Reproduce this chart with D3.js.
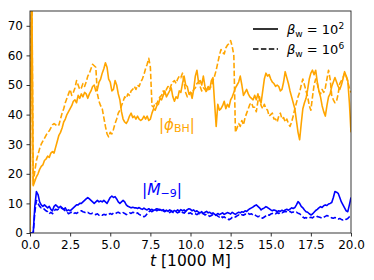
<!DOCTYPE html>
<html><head><meta charset="utf-8">
<script src="https://cdn.jsdelivr.net/npm/d3@7"></script>
<style>body{margin:0;background:#fff}svg{display:block}</style>
</head><body>
<svg id="c" width="374" height="280"></svg>
<script>
const tStep = 0.1; // time sampling in units of 1000 M
const xTicks = [0, 2.5, 5, 7.5, 10, 12.5, 15, 17.5, 20];
const yTicks = [0, 10, 20, 30, 40, 50, 60, 70];
const legendLabels = ["10^2", "10^6"];

// |phi_BH|, beta_w = 10^2 (solid)
const phiSolid = [0,95,16,17.5,19,20,21.5,22.5,23,24.5,
25,26,25.5,27,27.5,27,29,31,33,34,
35.5,37.5,38.5,40,41,42,43,44.5,45,44,
46.5,45.5,47,46,47.5,47,45.5,47,48,49.5,
50,48,48.5,51,52,54,55.5,57.5,56,52,
51,48,48.5,51.5,50,47,45,41,38.5,37.5,
37,38,39.5,40.5,39,39.5,38.5,39.5,38.5,38,
38.5,39.5,38.5,39.5,38,38.5,40.5,42,41.5,43,
43.5,45.5,45,46.5,48,46,47,48,49,46,
44.5,46,45.5,48,47.5,50.5,53,50,49.5,47,
47.5,45.5,48.5,53,55,51,51.5,50,53,49.5,
48,49.5,48.5,51.5,52.5,44,36,43.5,41.5,42,
43,44.5,42,43.5,42.5,45,46,47.5,49,50,
51,53,50,46.5,47.5,48.5,47,46,45.5,45,
46.5,45,47,45,44,48,52,54,53,53.5,
52,51,50.5,49.5,50,49.5,48,48.5,51,54.5,
52.5,50.5,48,46,44,42,38,34,31.5,37,
42,44,45.5,48.5,52,54,55,53.5,55,51,
48,46,43,41,39.5,43,46,47,49.5,51,
52.5,51,49.5,48.5,50,52,54.5,53,51.5,44,
34];

// |phi_BH|, beta_w = 10^6 (dashed)
const phiDashed = [0,95,16.5,21,24.5,26.5,28.5,30,31,32,
33,34,34.5,35.5,36.5,37,36.5,37,36.5,38.5,
40.5,42,44,45.5,47,48.5,46.5,47.5,49,51.5,
50,48.5,49,50.5,49.5,51,53,54,55.5,57,
56.5,56,47,44.5,43,42,39,36,33.5,32.5,
34,33.5,35,37,38.5,40.5,41.5,43,44.5,46,
45.5,47,46.5,48,48.5,49.5,48.5,50,49.5,51,
52,53.5,55.5,57,59,56,43,42.5,44,43.5,
45,46,46.5,48,47,48.5,49.5,48.5,50,51,
51.5,50.5,52,53,52.5,54,51,47.5,46,46.5,
47.5,47,48.5,49,50.5,51,49.5,48,49,48.5,
47.5,48.5,49,49.5,51.5,53,55,57.5,60,62,
61,60.5,62.5,63.5,64,65,63,60,34,35.5,
37,36,38,36.5,39,40.5,42,43.5,44,42.5,
42.5,41,44.5,46,43,42,43.5,42,41.5,39.5,
40,40.5,38.5,38.5,37.5,39.5,40.5,38.5,39,37.5,
38.5,37,36,37.5,39.5,42,44,46,47.5,50,
52,50,48,46,43,41.5,46,50,52,50.5,
48,47,48.5,47.5,49,52,55,52,46.5,45,
44,44.5,47,50.5,51.5,52.5,54,53,51,49,
47.5];

// |Mdot_-9|, beta_w = 10^2 (solid)
const mdotSolid = [0,0,0,9,14,13,10.5,9.5,9,9.5,
9,8.5,9,8,7.5,9,9.5,9,8.5,9,
8.5,8,8.5,7.5,7.8,7.5,8,8.5,9,9.5,
9.5,10,10,10.5,11,11.5,12,11.5,11,10.5,
10,10.5,11,10.5,10.8,10.5,11,10.5,10,11,
12,12.5,12,12.3,11.5,10.5,10,10.5,11,10.5,
9.5,9,8.8,8.5,8.7,8.5,8.5,8.3,8.6,8.2,
8,8.4,8,7.8,8.2,7.8,8,7.6,7.9,7.5,
7.8,8,7.6,7.9,7.4,7.7,7.3,7.8,7.5,7.2,
7.6,7.3,7.8,7.4,7.9,7.5,7.8,7.3,7.9,8.2,
8,7.5,7.8,7.2,7.5,7,6.8,7.2,6.6,7,
7.3,6.8,7,6.5,6.8,6.3,6.1,6.6,6.2,6.5,
6.8,6.3,6.6,6.9,6.7,6.4,7,6.6,6.3,6.7,
7,6.8,7.2,7,7.5,7.3,7.8,8.2,8.5,8.8,
9.2,9.5,9,8.5,7.8,8.2,8.5,8.9,8.6,8.2,
7.8,7.5,7.8,7.6,7.2,7.5,7.3,7.7,7.4,7.8,
8,7.7,8.1,8.5,8.3,8.6,9.5,10.6,10,9,
8.5,7.8,7.2,7,6.5,6.1,6.4,7,7.6,8,
8.5,8.9,8.6,9.2,9.5,9.3,9.8,10,10.3,12,
14,13.8,13.4,12,10.5,9.5,8.5,7.5,7.2,9.5,
12];

// |Mdot_-9|, beta_w = 10^6 (dashed)
const mdotDashed = [0,0,0,7,11,10,9,8.5,8.5,8,
7.5,7.2,6.5,7,6.5,7.5,8,7.8,8.2,8.5,
8.3,8,7.5,7.2,6.5,6.8,7,6.5,6.8,6.6,
7,7.3,7.5,7.2,7,6.8,7,6.6,6.5,6.7,
6.4,6.2,6.5,6,6.2,6,6.3,6.1,6.4,6.2,
6.6,6.3,6.7,6.5,6.8,7,6.7,6.5,6.9,6.6,
6.2,6.5,6.8,6.6,7,6.8,6.5,6.8,6.3,6,
5.8,5.5,5.8,6.5,7.2,7.5,7.2,7.6,7.9,8.2,
8,7.7,7.9,7.5,7.2,7.6,7.1,6.9,7.3,7,
6.7,7.1,6.8,7.2,6.6,7,6.7,7.3,6.9,6.6,
6.8,6.4,6.7,6.5,6.2,6.6,6.3,6.7,6.5,6.1,
6.4,6,5.6,5.9,6.2,5.8,6.1,5.7,5.4,5.8,
5.2,5.5,5,4.8,4.5,4.8,5.3,5.6,5.4,5.8,
6.1,5.8,6.2,6,6.4,6.2,6.6,6.3,6.5,6,
6.2,5.8,5.5,5.7,5.2,5,5.4,5.8,6.2,6,
6.4,6.6,6.8,6.5,6.9,6.6,7,6.8,7.1,7.3,
7.2,7,7.3,6.9,7.1,6.8,7,6.7,6.5,6,
5.4,5,5.2,4.9,5.1,5.3,5.1,5.5,5.3,5.6,
5.4,5.2,5,5.3,5.6,5.9,5.7,5.4,5.1,5,
5.2,5,4.7,4.9,4.6,4.4,4.7,4.6,4.9,5.5,
5.8];

const ORANGE = "#FFA500", BLUE = "#0000FF";
const svg = d3.select("#c");
const L = 30, R = 351, T = 11, B = 233;
const x = d3.scaleLinear().domain([0, 20]).range([L, R]);
const y = d3.scaleLinear().domain([0, 75]).range([B, T]);

svg.append("defs").append("clipPath").attr("id", "clip")
  .append("rect").attr("x", L).attr("y", T).attr("width", R - L).attr("height", B - T);

const line = d3.line().x((d, i) => x(i * tStep)).y(d => y(d));
const g = svg.append("g").attr("clip-path", "url(#clip)");
const series = [
  {v: phiDashed, c: ORANGE, dash: "5.5,2.4"},
  {v: phiSolid, c: ORANGE, dash: null},
  {v: mdotDashed, c: BLUE, dash: "5.5,2.4"},
  {v: mdotSolid, c: BLUE, dash: null}
];
series.forEach(s => {
  g.append("path").attr("d", line(s.v)).attr("fill", "none")
    .attr("stroke", s.c).attr("stroke-width", 1.6)
    .attr("stroke-linejoin", "round")
    .attr("stroke-dasharray", s.dash);
});

const font = "DejaVu Sans, sans-serif";
const xAxis = d3.axisBottom(x).tickValues(xTicks).tickFormat(d3.format(".1f")).tickSize(3.5).tickPadding(3.5);
const yAxis = d3.axisLeft(y).tickValues(yTicks).tickFormat(d3.format("d")).tickSize(3.5).tickPadding(3.5);
const gx = svg.append("g").attr("transform", `translate(0,${B})`).call(xAxis);
const gy = svg.append("g").attr("transform", `translate(${L},0)`).call(yAxis);
[gx, gy].forEach(a => {
  a.select(".domain").remove();
  a.selectAll("line").attr("stroke", "#000").attr("stroke-width", 0.8);
  a.selectAll("text").attr("font-family", font).attr("font-size", 12).attr("fill", "#000");
});
svg.append("rect").attr("x", L).attr("y", T).attr("width", R - L).attr("height", B - T)
  .attr("fill", "none").attr("stroke", "#222").attr("stroke-width", 0.9);

// x label
const xl = svg.append("text").attr("x", (L + R) / 2).attr("y", 266)
  .attr("text-anchor", "middle").attr("font-family", font).attr("font-size", 15.5).attr("fill", "#000");
xl.append("tspan").attr("font-style", "italic").text("t");
xl.append("tspan").text(" [1000 M]");

// legend
legendLabels.forEach((lab, i) => {
  const yy = 29 + i * 20;
  svg.append("line").attr("x1", 253).attr("x2", 278).attr("y1", yy).attr("y2", yy)
    .attr("stroke", "#000").attr("stroke-width", 1.6)
    .attr("stroke-dasharray", i ? "5.5,2.4" : null);
  const t = svg.append("text").attr("x", 287).attr("y", yy + 5)
    .attr("font-family", font).attr("font-size", 13).attr("fill", "#000");
  t.append("tspan").attr("font-style", "italic").text("β");
  t.append("tspan").attr("font-size", 9).attr("dy", 2.5).text("w");
  const [base, exp] = lab.split("^");
  t.append("tspan").attr("dy", -2.5).text(" = " + base);
  t.append("tspan").attr("font-size", 9).attr("dy", -5.5).text(exp);
});

// annotations
const a1 = svg.append("text").attr("x", 159).attr("y", 130)
  .attr("font-family", font).attr("font-size", 15).attr("fill", ORANGE);
a1.append("tspan").text("|");
a1.append("tspan").attr("font-style", "italic").text("ϕ");
a1.append("tspan").attr("font-size", 11).attr("dy", 2).text("BH");
a1.append("tspan").attr("dy", -2).text("|");

const a2 = svg.append("text").attr("x", 142).attr("y", 194.5)
  .attr("font-family", font).attr("font-size", 15.5).attr("fill", BLUE);
a2.append("tspan").text("|");
a2.append("tspan").attr("font-style", "italic").text("Ṁ");
a2.append("tspan").attr("font-size", 11).attr("dy", 2.5).text("−9");
a2.append("tspan").attr("dy", -2.5).text("|");
</script>
</body></html>
